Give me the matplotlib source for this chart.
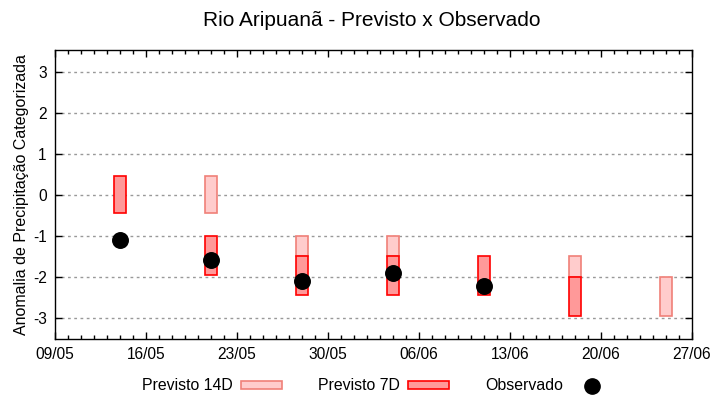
import numpy as np
import pandas as pd
import matplotlib
matplotlib.use("Agg")
import matplotlib.pyplot as plt
import matplotlib.dates as mdates
from matplotlib.patches import Patch
from matplotlib.lines import Line2D

plt.rcParams['font.family'] = ['Liberation Sans', 'DejaVu Sans']

#----------------
# Data (read off)
#----------------
dates = ['14/05', '21/05', '28/05', '04/06', '11/06', '18/06', '25/06']
prev14_low = [np.nan, -0.45, -1.5, -1.5, np.nan, -2.0, -2.95]
prev14_high = [np.nan, 0.45, -1.0, -1.0, np.nan, -1.5, -2.0]
prev7_low = [-0.45, -1.95, -2.45, -2.45, -2.45, -2.95, np.nan]
prev7_high = [0.45, -1.0, -1.5, -1.5, -1.5, -2.0, np.nan]
observado = [-1.1, -1.6, -2.1, -1.9, -2.23, np.nan, np.nan]
xtick_labels = ['09/05', '16/05', '23/05', '30/05', '06/06', '13/06', '20/06', '27/06']
yticks = [-3, -2, -1, 0, 1, 2, 3]

year = 2023
x = pd.to_datetime([d + '/' + str(year) for d in dates], format='%d/%m/%Y')
xt = pd.to_datetime([d + '/' + str(year) for d in xtick_labels], format='%d/%m/%Y')

c14_fill, c14_edge = '#ffcccc', '#f08078'
c7_fill, c7_edge = '#ff9999', '#ff0000'

fig = plt.figure(figsize=(7.2, 4.0), dpi=100)
ax = fig.add_axes([0.0764, 0.1525, 0.8847, 0.7225])

lo14 = np.array(prev14_low); hi14 = np.array(prev14_high)
lo7 = np.array(prev7_low); hi7 = np.array(prev7_high)
ax.bar(x, hi14 - lo14, bottom=lo14, width=0.9, color=c14_fill,
       edgecolor=c14_edge, linewidth=1.2, zorder=2)
ax.bar(x, hi7 - lo7, bottom=lo7, width=0.9, color=c7_fill,
       edgecolor=c7_edge, linewidth=1.2, zorder=3)
ax.scatter(x, observado, s=125, color='black', zorder=4)

ax.set_xlim(xt[0], xt[-1])
ax.set_ylim(-3.52, 3.54)
ax.set_xticks(xt)
ax.set_xticklabels(xtick_labels)
ax.xaxis.set_minor_locator(mdates.DayLocator())
ax.set_yticks(yticks)
ax.set_yticklabels([str(v) for v in yticks])

ax.tick_params(axis='both', which='major', direction='in', length=5, width=1,
               labelsize=11.2, top=True, right=True, pad=6, colors='black')
ax.tick_params(axis='x', which='minor', direction='in', length=3, width=1,
               top=True)
for s in ax.spines.values():
    s.set_linewidth(1.0)

ax.yaxis.grid(True, linestyle=(0, (2, 2.5)), color='#999999', linewidth=1.0)
ax.set_axisbelow(True)

ax.set_ylabel('Anomalia de Precipitação Categorizada', fontsize=11.5, labelpad=3)
fig.text(0.517, 0.95, 'Rio Aripuanã - Previsto x Observado', fontsize=15,
         ha='center', va='center')

handles = [
    Patch(facecolor=c14_fill, edgecolor=c14_edge, linewidth=1.2, label='Previsto 14D'),
    Patch(facecolor=c7_fill, edgecolor=c7_edge, linewidth=1.2, label='Previsto 7D'),
    Line2D([], [], linestyle='none', marker='o', markersize=11, color='black',
           label='Observado'),
]
fig.legend(handles=handles, loc='center', bbox_to_anchor=(0.524, 0.035), ncol=3,
           markerfirst=False, frameon=False, fontsize=11.4, handlelength=2.6,
           handleheight=0.4, handletextpad=0.5, columnspacing=2.3)

fig.savefig('out.png', dpi=100)
